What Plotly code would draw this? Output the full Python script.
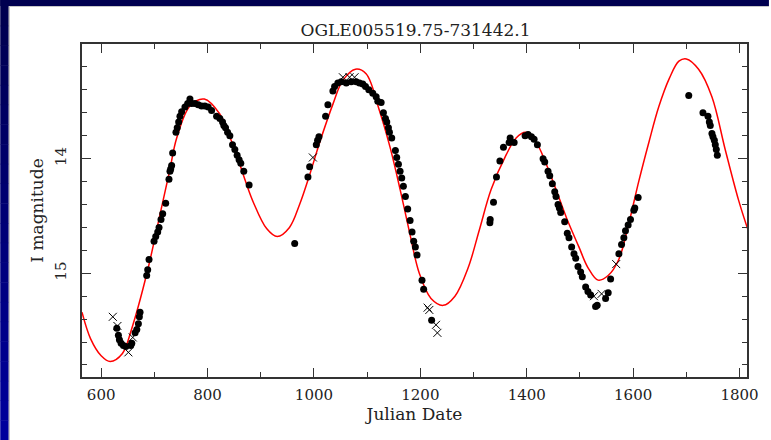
import plotly.graph_objects as go

title_text = "OGLE005519.75-731442.1"

# observed points (filled circles)
obs_jd = [629.4, 632.4, 634.3, 637.5, 641.8, 646.3, 655.7, 657.6, 663.8, 667.0, 670.0, 671.8, 673.1,
          685.6, 687.5, 690.0, 699.4, 702.6, 706.3, 708.8, 712.5, 715.7, 721.3, 727.5, 729.4,
          730.7, 732.5, 734.4, 740.6, 743.0, 745.7, 748.1, 751.3, 757.5, 762.6, 766.9, 770.1, 776.3,
          782.5, 788.8, 795.0, 801.2, 807.6, 817.0, 823.1, 828.2, 830.6, 833.8, 837.6, 841.9, 846.9,
          851.3, 855.6, 859.3, 862.5, 868.1, 878.1,
          963.8,
          988.7, 991.9, 1004.4, 1006.9, 1009.4, 1021.9, 1026.2, 1035.6, 1038.8, 1044.9, 1051.3,
          1060.7, 1070.0, 1079.4, 1085.6, 1091.8, 1096.9, 1103.1, 1110.6, 1116.9, 1120.0,
          1126.3, 1130.6, 1134.4, 1136.9, 1140.0, 1141.9, 1146.2, 1153.1, 1155.6, 1158.8, 1161.9,
          1165.0, 1168.1, 1171.9, 1176.2, 1180.7, 1184.4, 1187.5, 1190.6, 1193.8, 1203.1, 1206.2, 1221.2,
          1330.7, 1331.3, 1337.5, 1343.1, 1349.5, 1356.2, 1366.9, 1368.8, 1376.3, 1396.9, 1402.5,
          1408.8, 1413.8, 1420.0, 1430.7, 1433.8, 1440.0, 1443.2, 1448.1, 1452.6, 1455.0, 1458.8,
          1461.3, 1463.8, 1471.3, 1476.2, 1479.4, 1484.4, 1488.8, 1492.0, 1496.3, 1501.3, 1504.4,
          1510.7, 1515.0, 1520.1, 1529.4, 1532.4, 1548.2, 1553.1, 1557.6, 1573.2, 1578.2, 1582.5,
          1585.6, 1590.6, 1595.0, 1601.3, 1603.1, 1609.4,
          1704.5, 1731.2, 1740.6, 1743.2, 1745.0, 1748.1, 1750.0, 1752.6, 1754.4, 1756.3, 1758.2]
obs_mag = [15.48, 15.54, 15.58, 15.61, 15.63, 15.64, 15.63, 15.61, 15.52, 15.49, 15.44, 15.38, 15.34,
           15.02, 14.97, 14.88, 14.72, 14.68, 14.64, 14.60, 14.53, 14.48, 14.39, 14.18, 14.11,
           14.09, 14.06, 13.95, 13.77, 13.73, 13.68, 13.63, 13.59, 13.55, 13.52, 13.48, 13.52, 13.52,
           13.53, 13.54, 13.54, 13.55, 13.58, 13.63, 13.65, 13.68, 13.71, 13.73, 13.77, 13.80, 13.88,
           13.92, 13.97, 14.01, 14.04, 14.11, 14.23,
           14.74,
           14.16, 14.07, 13.88, 13.84, 13.81, 13.63, 13.53, 13.41, 13.37, 13.34, 13.33,
           13.34, 13.33, 13.33, 13.34, 13.35, 13.37, 13.40, 13.43, 13.46, 13.50,
           13.51, 13.60, 13.65, 13.68, 13.73, 13.77, 13.82, 13.93, 13.99, 14.05, 14.11,
           14.17, 14.24, 14.33, 14.44, 14.54, 14.64, 14.72, 14.77, 14.84, 15.06, 15.14, 15.41,
           14.56, 14.53, 14.38, 14.16, 14.02, 13.90, 13.86, 13.82, 13.86, 13.80, 13.79,
           13.81, 13.83, 13.88, 14.00, 14.03, 14.11, 14.15, 14.22, 14.29, 14.33, 14.40,
           14.43, 14.47, 14.55, 14.65, 14.69, 14.77, 14.83, 14.87, 14.94, 14.99, 15.03,
           15.12, 15.16, 15.19, 15.29, 15.28, 15.22, 15.17, 15.05, 14.83, 14.75, 14.69,
           14.63, 14.58, 14.53, 14.45, 14.43, 14.34,
           13.45, 13.60, 13.63, 13.68, 13.71, 13.78, 13.81, 13.84, 13.88, 13.92, 13.97]

# observed points (crosses)
crs_jd = [621.9, 630.6, 651.2, 659.4, 998.0, 1054.4, 1066.9, 1076.3,
          1213.7, 1216.9, 1229.4, 1232.0, 1526.3, 1540.7, 1568.1]
crs_mag = [15.38, 15.46, 15.69, 15.56, 13.99, 13.29, 13.29, 13.29,
           15.30, 15.32, 15.45, 15.52, 15.20, 15.18, 14.92]

# fitted curve
fit_jd = [564, 580, 600, 617, 640, 657, 686, 711, 729, 742, 767, 794, 823, 835, 854, 873, 886, 911,
          931, 954, 973, 992, 1010, 1036, 1054, 1078, 1098, 1123, 1143, 1162, 1180, 1198, 1220, 1243,
          1265, 1290, 1311, 1333, 1361, 1380, 1398, 1418, 1436, 1455, 1475, 1498, 1515, 1534, 1553,
          1573, 1590, 1611, 1630, 1648, 1668, 1686, 1700, 1723, 1748, 1773, 1798, 1815]
fit_mag = [15.34, 15.57, 15.72, 15.77, 15.70, 15.49, 15.00, 14.48, 14.10, 13.82, 13.54, 13.48, 13.61,
           13.73, 13.96, 14.22, 14.38, 14.61, 14.68, 14.60, 14.40, 14.14, 13.87, 13.52, 13.32, 13.22,
           13.26, 13.58, 13.90, 14.27, 14.65, 15.00, 15.22, 15.28, 15.20, 14.95, 14.62, 14.27, 13.97,
           13.82, 13.77, 13.86, 14.04, 14.27, 14.52, 14.77, 14.95, 15.06, 15.02, 14.88, 14.60, 14.19,
           13.85, 13.55, 13.30, 13.15, 13.13, 13.22, 13.46, 13.92, 14.36, 14.61]

x_range = [564, 1814]
y_range = [15.905, 13.0]
x_title = "Julian Date"
y_title = "I magnitude"

SERIF = "DejaVu Serif"
W, H = 771, 440
L, R, T, B = 82, 22, 44, 63
pw, ph = W - L - R, H - T - B

def px2x(px):
    return (px - L) / pw

def py2y(py):
    return (H - B - py) / ph

fig = go.Figure()
fig.add_trace(go.Scatter(x=fit_jd, y=fit_mag, mode="lines", line=dict(color="#ff0000", width=1.5, shape="spline", smoothing=1.0),
                         hoverinfo="skip", showlegend=False))
fig.add_trace(go.Scatter(x=obs_jd, y=obs_mag, mode="markers",
                         marker=dict(symbol="circle", size=7, color="black"), showlegend=False))
fig.add_trace(go.Scatter(x=crs_jd, y=crs_mag, mode="markers",
                         marker=dict(symbol="x-thin", size=8, line=dict(color="black", width=1)), showlegend=False))

shapes = []
shapes.append(dict(type="rect", xref="paper", yref="paper", x0=px2x(0), x1=px2x(W), y0=py2y(6), y1=py2y(0),
                   fillcolor="#000050", line_width=0, layer="below"))
n = 22
for i in range(n):
    t = i / (n - 1)
    b_ = int(0x50 + (0x9c - 0x50) * t)
    y0 = 6 + (H - 6) * i / n
    y1 = 6 + (H - 6) * (i + 1) / n
    shapes.append(dict(type="rect", xref="paper", yref="paper", x0=px2x(0), x1=px2x(8.5),
                       y0=py2y(y1 + 0.5), y1=py2y(y0), fillcolor=f"rgb(0,0,{b_})", line_width=0, layer="below"))
shapes.append(dict(type="rect", xref="paper", yref="paper", x0=px2x(0), x1=px2x(8.5), y0=py2y(6), y1=py2y(0),
                   fillcolor="#000050", line_width=0, layer="below"))
shapes.append(dict(type="line", xref="paper", yref="paper", x0=px2x(9), x1=px2x(9), y0=py2y(H), y1=py2y(6.5),
                   line=dict(color="#b0b0b0", width=1), layer="below"))
shapes.append(dict(type="line", xref="paper", yref="paper", x0=px2x(9), x1=px2x(W), y0=py2y(6.5), y1=py2y(6.5),
                   line=dict(color="#c8c8c8", width=1), layer="below"))

axis_common = dict(showline=True, linecolor="#333333", linewidth=1.5, mirror="ticks", ticks="inside",
                   tickcolor="#333333", tickwidth=1, showgrid=False, zeroline=False,
                   tickfont=dict(family=SERIF, size=15, color="#222222"))

fig.update_layout(
    width=W, height=H,
    margin=dict(l=L, r=R, t=T, b=B),
    paper_bgcolor="white", plot_bgcolor="white",
    shapes=shapes,
    title=dict(text=title_text, x=(L + pw / 2) / W, xanchor="center", y=1 - 30 / H, yanchor="middle",
               font=dict(family=SERIF, size=17, color="#222222")),
    xaxis=dict(range=x_range, dtick=200, tick0=0, ticklen=9, ticklabelstandoff=3,
               minor=dict(dtick=100, tick0=0, ticklen=5, ticks="inside", tickcolor="#333333"),
               title=dict(text=x_title, font=dict(family=SERIF, size=17, color="#222222"), standoff=2),
               **axis_common),
    yaxis=dict(range=y_range, tickvals=[14, 15], ticklen=9, tickangle=-90, ticklabelstandoff=8,
               minor=dict(dtick=0.2, tick0=0, ticklen=5, ticks="inside", tickcolor="#333333"),
               title=dict(text=y_title, font=dict(family=SERIF, size=17, color="#222222"), standoff=4),
               **axis_common),
    showlegend=False,
)

fig.write_html("out.html")
